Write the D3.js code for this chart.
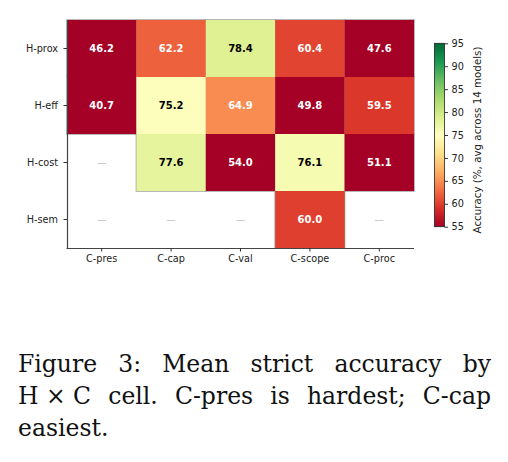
<!DOCTYPE html>
<html lang="en">
<head>
    <meta charset="UTF-8">
    <script src="https://d3js.org/d3.v7.min.js"></script>
    <title>Mean strict accuracy by H x C cell</title>
    <style>
      body { margin: 0; background: #fff; }
    </style>
</head>
<body>
    <div id="heatmap"></div>
</body>
<script>
    // data
    var rows = ["H-prox", "H-eff", "H-cost", "H-sem"];
    var cols = ["C-pres", "C-cap", "C-val", "C-scope", "C-proc"];
    var hProx = [46.2, 62.2, 78.4, 60.4, 47.6];
    var hEff  = [40.7, 75.2, 64.9, 49.8, 59.5];
    var hCost = [null, 77.6, 54.0, 76.1, 51.1];
    var hSem  = [null, null, null, 60.0, null];
    var barTicks = [55, 60, 65, 70, 75, 80, 85, 90, 95];
    var barLabel = "Accuracy (%, avg across 14 models)";
    var caption = [
      ["Figure", "3:", "Mean", "strict", "accuracy", "by"],
      ["H \u00d7 C", "cell.", "C-pres", "is", "hardest;", "C-cap"],
      ["easiest."]
    ];

    var grid = [hProx, hEff, hCost, hSem];
    var cells = [];
    grid.forEach(function(r, i) {
      r.forEach(function(v, j) { cells.push({row: rows[i], col: cols[j], value: v}); });
    });

    var W = 508, H = 462;
    var svg = d3.select("#heatmap").append("svg")
        .attr("width", W).attr("height", H)
        .style("font-family", "'DejaVu Sans', sans-serif");

    // scales
    var x = d3.scaleBand().domain(cols).range([67, 414]);
    var y = d3.scaleBand().domain(rows).range([20, 248]);

    // matplotlib RdYlGn, vmin 55, vmax 95
    var rdylgn = ["#a50026","#d73027","#f46d43","#fdae61","#fee08b","#ffffbf",
                  "#d9ef8b","#a6d96a","#66bd63","#1a9850","#006837"];
    var color = d3.scaleLinear()
        .domain(rdylgn.map(function(d, i) { return 55 + 40 * i / (rdylgn.length - 1); }))
        .range(rdylgn)
        .clamp(true);

    var filled = cells.filter(function(d) { return d.value !== null; });

    // gray edge that only shows next to empty cells
    svg.append("g").selectAll("rect")
      .data(filled).enter().append("rect")
        .attr("x", function(d) { return x(d.col); })
        .attr("y", function(d) { return y(d.row); })
        .attr("width", x.bandwidth())
        .attr("height", y.bandwidth())
        .attr("fill", "none")
        .attr("stroke", "#9a9a9a")
        .attr("stroke-width", 1.4);

    svg.append("g").selectAll("rect")
      .data(filled).enter().append("rect")
        .attr("x", function(d) { return x(d.col); })
        .attr("y", function(d) { return y(d.row); })
        .attr("width", x.bandwidth())
        .attr("height", y.bandwidth())
        .attr("fill", function(d) { return color(d.value); });

    // annotations
    svg.append("g").selectAll("text")
      .data(cells).enter().append("text")
        .attr("x", function(d) { return x(d.col) + x.bandwidth() / 2; })
        .attr("y", function(d) { return y(d.row) + y.bandwidth() / 2; })
        .attr("dy", "0.36em")
        .attr("text-anchor", "middle")
        .style("font-size", function(d) { return d.value === null ? "9.5px" : "10px"; })
        .style("font-weight", function(d) { return d.value === null ? "normal" : "bold"; })
        .attr("fill", function(d) {
          if (d.value === null) return "#aaaaaa";
          return d3.lab(color(d.value)).l > 80 ? "#000" : "#fff";
        })
        .text(function(d) { return d.value === null ? "\u2014" : d.value.toFixed(1); });

    // axes
    var xAxis = svg.append("g")
        .attr("transform", "translate(0,248)")
        .call(d3.axisBottom(x).tickSize(3.5).tickSizeOuter(0).tickPadding(4));
    var yAxis = svg.append("g")
        .attr("transform", "translate(67,0)")
        .call(d3.axisLeft(y).tickSize(3.5).tickSizeOuter(0).tickPadding(5.5));
    [xAxis, yAxis].forEach(function(a) {
      a.selectAll("text").style("font-size", "9.7px").style("font-family", "'DejaVu Sans', sans-serif").attr("fill", "#222");
      a.selectAll("line").attr("stroke", "#333");
      a.select(".domain").attr("stroke", "#444").attr("stroke-width", 1.2);
    });
    // extend left spine to the bottom and bottom spine to the left corner
    yAxis.select(".domain").attr("d", "M0.5,20V248.5");
    xAxis.select(".domain").attr("d", "M66.5,0.5H414");

    // colorbar
    var cb = d3.scaleLinear().domain([55, 95]).range([226.7, 43.3]);
    var grad = svg.append("defs").append("linearGradient")
        .attr("id", "cbgrad")
        .attr("x1", "0").attr("y1", "1").attr("x2", "0").attr("y2", "0");
    grad.selectAll("stop")
      .data(d3.range(0, 41))
      .enter().append("stop")
        .attr("offset", function(d) { return d / 40; })
        .attr("stop-color", function(d) { return color(55 + d); });
    svg.append("rect")
        .attr("x", 434.5).attr("y", cb(95))
        .attr("width", 10).attr("height", cb(55) - cb(95))
        .attr("fill", "url(#cbgrad)")
        .attr("stroke", "#222").attr("stroke-width", 0.8);
    var cbAxis = svg.append("g")
        .attr("transform", "translate(444.5,0)")
        .call(d3.axisRight(cb).tickValues(barTicks).tickSize(3.5).tickPadding(3.5));
    cbAxis.select(".domain").remove();
    cbAxis.selectAll("line").attr("stroke", "#333");
    cbAxis.selectAll("text").style("font-size", "9.7px").style("font-family", "'DejaVu Sans', sans-serif").attr("fill", "#222");
    svg.append("text")
        .attr("transform", "translate(480.5,140) rotate(-90)")
        .attr("text-anchor", "middle")
        .style("font-size", "10.3px")
        .attr("fill", "#222")
        .text(barLabel);

    // caption, justified lines
    var capLeft = 18, capRight = 491;
    var baselines = [372, 403.8, 435.8];
    var cap = svg.append("g")
        .style("font-family", "'DejaVu Serif', serif")
        .style("font-size", "23.5px")
        .attr("fill", "#111");
    caption.forEach(function(words, li) {
      var nodes = words.map(function(w) {
        return cap.append("text").attr("y", baselines[li]).attr("x", capLeft).text(w);
      });
      if (li === caption.length - 1) {
        // last line: left aligned, normal spaces
        var xx = capLeft;
        nodes.forEach(function(n) { n.attr("x", xx); xx += n.node().getComputedTextLength() + 6; });
        return;
      }
      var widths = nodes.map(function(n) { return n.node().getComputedTextLength(); });
      var gap = (capRight - capLeft - d3.sum(widths)) / (nodes.length - 1);
      var xx = capLeft;
      nodes.forEach(function(n, i) { n.attr("x", xx); xx += widths[i] + gap; });
    });
</script>
</html>
